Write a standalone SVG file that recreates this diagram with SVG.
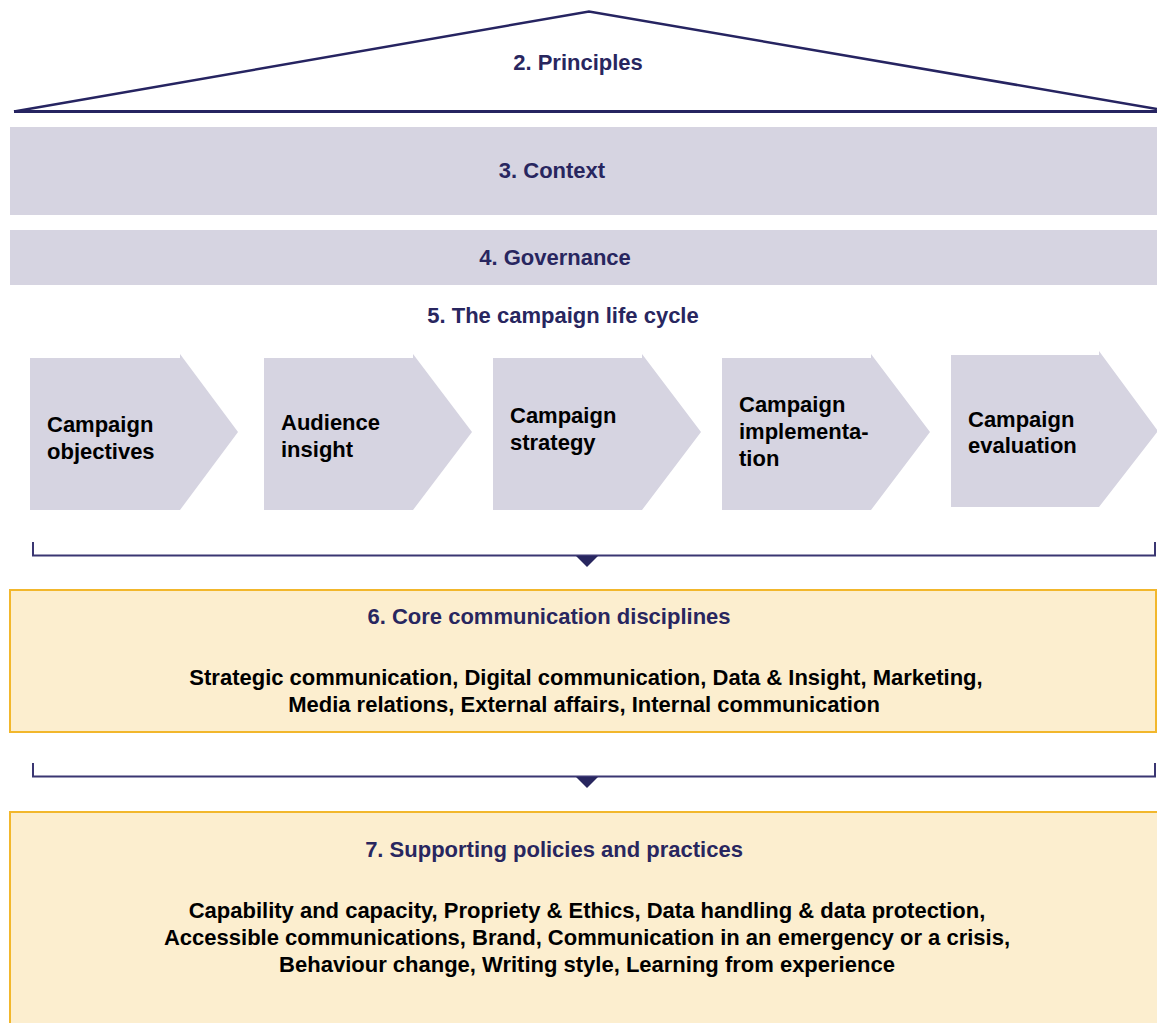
<svg xmlns="http://www.w3.org/2000/svg" width="1157" height="1023" viewBox="0 0 1157 1023">
<defs>
<style>
.hdr{font-family:"Liberation Sans",Arial,sans-serif;font-weight:bold;font-size:22px;fill:#28265f;text-anchor:middle}
.body{font-family:"Liberation Sans",Arial,sans-serif;font-weight:bold;font-size:22px;fill:#000;text-anchor:middle}
.chev{font-family:"Liberation Sans",Arial,sans-serif;font-weight:bold;font-size:22px;fill:#000}
.band{fill:#d6d4e1}
.box{fill:#fceecf;stroke:#f2b72c;stroke-width:2}
.brk{fill:none;stroke:#3a3672;stroke-width:2}
.tri{fill:#28265f}
</style>
</defs>
<rect width="1157" height="1023" fill="#ffffff"/>
<g id="principles">
<polyline points="14,111.5 589,11.5 1157,109" fill="none" stroke="#262461" stroke-width="2.5"/>
<line x1="14" y1="111.5" x2="1157" y2="111.5" stroke="#262461" stroke-width="3"/>
<text class="hdr" x="578" y="70">2. Principles</text>
</g>
<g id="context">
<rect class="band" x="10" y="127" width="1147" height="88"/>
<text class="hdr" x="552" y="178">3. Context</text>
</g>
<g id="governance">
<rect class="band" x="10" y="230" width="1147" height="55"/>
<text class="hdr" x="555" y="265">4. Governance</text>
</g>
<g id="lifecycle">
<text class="hdr" x="563" y="323">5. The campaign life cycle</text>
</g>
<g id="objectives">
<polygon class="band" points="30,358 180,358 180,354 238,432 180,510 30,510"/>
<text class="chev" x="47" y="432">Campaign</text>
<text class="chev" x="47" y="459">objectives</text>
</g>
<g id="insight">
<polygon class="band" points="264,358 413,358 413,354 472,432 413,510 264,510"/>
<text class="chev" x="281" y="430">Audience</text>
<text class="chev" x="281" y="457">insight</text>
</g>
<g id="strategy">
<polygon class="band" points="493,358 642,358 642,354 701,432 642,510 493,510"/>
<text class="chev" x="510" y="423">Campaign</text>
<text class="chev" x="510" y="450">strategy</text>
</g>
<g id="implementation">
<polygon class="band" points="722,358 871,358 871,354 930,432 871,510 722,510"/>
<text class="chev" x="739" y="412">Campaign</text>
<text class="chev" x="739" y="439">implementa-</text>
<text class="chev" x="739" y="466">tion</text>
</g>
<g id="evaluation">
<polygon class="band" points="951,355 1099,355 1099,351 1158,431 1099,507 951,507"/>
<text class="chev" x="968" y="427">Campaign</text>
<text class="chev" x="968" y="453">evaluation</text>
</g>
<g id="connectors">
<polyline class="brk" points="33,542 33,555.5 1155,555.5 1155,542"/>
<polygon class="tri" points="576,556 598,556 587,567"/>
<polyline class="brk" points="33,763 33,776.5 1155,776.5 1155,763"/>
<polygon class="tri" points="576,777 598,777 587,788"/>
</g>
<g id="core">
<rect class="box" x="10" y="590" width="1146" height="142"/>
<text class="hdr" x="549" y="624">6. Core communication disciplines</text>
<text class="body" x="586" y="685">Strategic communication, Digital communication, Data &amp; Insight, Marketing,</text>
<text class="body" x="584" y="712">Media relations, External affairs, Internal communication</text>
</g>
<g id="supporting">
<rect class="box" x="10" y="812" width="1160" height="220"/>
<text class="hdr" x="554" y="857">7. Supporting policies and practices</text>
<text class="body" x="587" y="918">Capability and capacity, Propriety &amp; Ethics, Data handling &amp; data protection,</text>
<text class="body" x="587" y="945">Accessible communications, Brand, Communication in an emergency or a crisis,</text>
<text class="body" x="587" y="972">Behaviour change, Writing style, Learning from experience</text>
</g>
</svg>
